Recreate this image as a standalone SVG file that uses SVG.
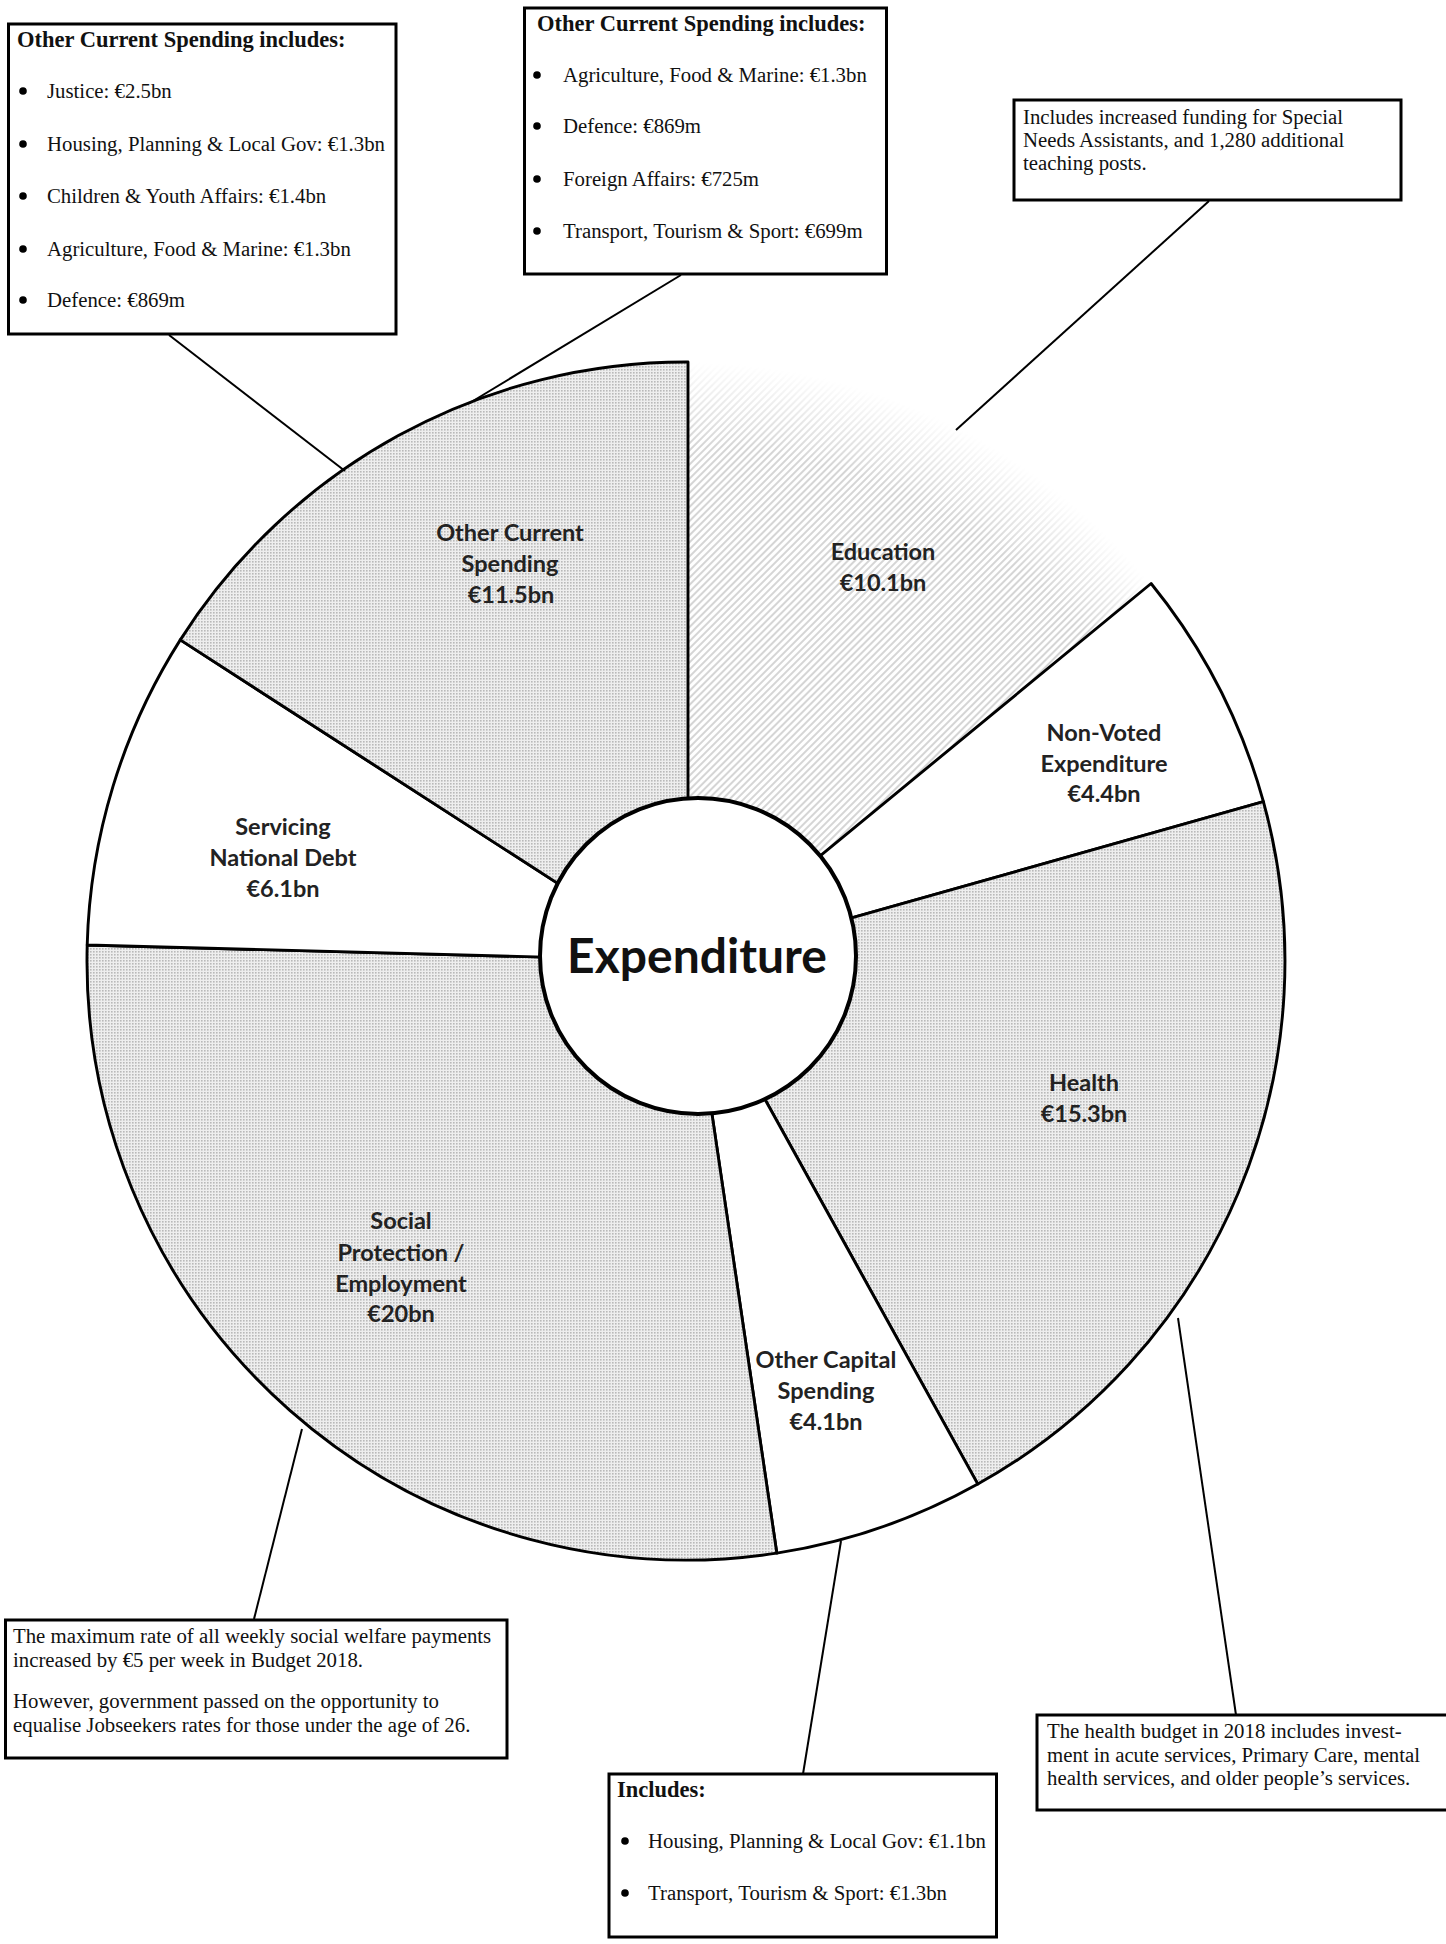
<svg xmlns="http://www.w3.org/2000/svg" width="1446" height="1944" viewBox="0 0 1446 1944">
<style>
.box{fill:#fff;stroke:#000;stroke-width:3}
.bt{font-family:"Liberation Serif","Times New Roman",serif;font-size:20.8px;fill:#111}
.bh{font-weight:bold;font-size:22.5px}
.lbl{font-family:Lato,"Liberation Sans",sans-serif;font-weight:bold;font-size:23.5px;fill:#222;text-anchor:middle}
.seg{stroke:#000;stroke-width:2.9;stroke-linejoin:round}
.conn{stroke:#000;stroke-width:2;fill:none}
.dot{fill:#000}
</style>
<defs>
<pattern id="dots" patternUnits="userSpaceOnUse" width="3" height="3">
<rect width="3" height="3" fill="#eeeeee"/>
<rect x="0" y="0" width="1.6" height="1.6" fill="#b9b9b9"/>
</pattern>
<pattern id="hatch" patternUnits="userSpaceOnUse" width="5" height="5" patternTransform="rotate(45)">
<rect width="5" height="5" fill="#fff"/>
<line x1="1" y1="0" x2="1" y2="5" stroke="#c4c4c4" stroke-width="1.4"/>
</pattern>
<radialGradient id="fadeG" gradientUnits="userSpaceOnUse" cx="686" cy="961" r="599">
<stop offset="0.86" stop-color="#fff"/>
<stop offset="1" stop-color="#000"/>
</radialGradient>
<mask id="fade" maskUnits="userSpaceOnUse" x="0" y="0" width="1446" height="1944">
<rect width="1446" height="1944" fill="url(#fadeG)"/>
</mask>
</defs>
<rect width="1446" height="1944" fill="#fff"/>

<g id="pie">
<g id="seg-education"><path d="M688 830 L688 362 A599 599 0 0 1 1151.1 583.5 L799.5 872.9 Z" fill="url(#hatch)" mask="url(#fade)"/></g>
<g id="seg-nonvoted"><path class="seg" d="M799.5 872.9 L1151.1 583.5 A599 599 0 0 1 1263.4 801.7 L827.7 924.6 Z" fill="#fff"/></g>
<g id="seg-health"><path class="seg" d="M827.7 924.6 L1263.4 801.7 A599 599 0 0 1 977.8 1484.1 L756.3 1083.8 Z" fill="url(#dots)"/></g>
<g id="seg-othercapital"><path class="seg" d="M756.3 1083.8 L977.8 1484.1 A599 599 0 0 1 776.8 1553.1 L709.4 1096.6 Z" fill="#fff"/></g>
<g id="seg-social"><path class="seg" d="M709.4 1096.6 L776.8 1553.1 A599 599 0 0 1 87.2 945 L563.1 957.6 Z" fill="url(#dots)"/></g>
<g id="seg-servicing"><path class="seg" d="M563.1 957.6 L87.2 945 A599 599 0 0 1 180.3 639.9 L579.4 897.4 Z" fill="#fff"/></g>
<g id="seg-ocs"><path class="seg" d="M579.4 897.4 L180.3 639.9 A599 599 0 0 1 688 362 L688 830 Z" fill="url(#dots)"/></g>
</g>

<g id="connectors">
<line class="conn" x1="169" y1="335" x2="345" y2="471"/>
<line class="conn" x1="681" y1="275" x2="468" y2="404"/>
<line class="conn" x1="1209" y1="201" x2="956" y2="430"/>
<line class="conn" x1="254" y1="1619" x2="302" y2="1429"/>
<line class="conn" x1="803" y1="1774" x2="841" y2="1541"/>
<line class="conn" x1="1236" y1="1715" x2="1178" y2="1318"/>
</g>

<g id="center">
<circle cx="698" cy="956" r="158" fill="#fff" stroke="#000" stroke-width="4"/>
<text x="697" y="973" class="lbl" style="font-size:48px;fill:#111">Expenditure</text>
</g>

<g id="lbl-ocs"><text class="lbl" x="510" y="541">Other Current</text><text class="lbl" x="510" y="572">Spending</text><text class="lbl" x="511" y="603">€11.5bn</text></g>
<g id="lbl-education"><text class="lbl" x="883" y="560">Education</text><text class="lbl" x="883" y="591">€10.1bn</text></g>
<g id="lbl-nonvoted"><text class="lbl" x="1104" y="741">Non-Voted</text><text class="lbl" x="1104" y="772">Expenditure</text><text class="lbl" x="1104" y="802">€4.4bn</text></g>
<g id="lbl-servicing"><text class="lbl" x="283" y="835">Servicing</text><text class="lbl" x="283" y="866">National Debt</text><text class="lbl" x="283" y="897">€6.1bn</text></g>
<g id="lbl-health"><text class="lbl" x="1084" y="1091">Health</text><text class="lbl" x="1084" y="1122">€15.3bn</text></g>
<g id="lbl-social"><text class="lbl" x="401" y="1229">Social</text><text class="lbl" x="401" y="1261">Protection /</text><text class="lbl" x="401" y="1292">Employment</text><text class="lbl" x="401" y="1322">€20bn</text></g>
<g id="lbl-othercapital"><text class="lbl" x="826" y="1368">Other Capital</text><text class="lbl" x="826" y="1399">Spending</text><text class="lbl" x="826" y="1430">€4.1bn</text></g>

<g id="box-ocs-left">
<rect class="box" x="8.5" y="24" width="387.5" height="310"/>
<text class="bt bh" x="17" y="47">Other Current Spending includes:</text>
<circle class="dot" cx="23" cy="91" r="3.8"/><text class="bt" x="47" y="98">Justice: €2.5bn</text>
<circle class="dot" cx="23" cy="144" r="3.8"/><text class="bt" x="47" y="151">Housing, Planning &amp; Local Gov: €1.3bn</text>
<circle class="dot" cx="23" cy="196" r="3.8"/><text class="bt" x="47" y="203">Children &amp; Youth Affairs: €1.4bn</text>
<circle class="dot" cx="23" cy="249" r="3.8"/><text class="bt" x="47" y="256">Agriculture, Food &amp; Marine: €1.3bn</text>
<circle class="dot" cx="23" cy="300" r="3.8"/><text class="bt" x="47" y="307">Defence: €869m</text>
</g>

<g id="box-ocs-right">
<rect class="box" x="524.5" y="8" width="362" height="266"/>
<text class="bt bh" x="537" y="31">Other Current Spending includes:</text>
<circle class="dot" cx="537" cy="75" r="3.8"/><text class="bt" x="563" y="82">Agriculture, Food &amp; Marine: €1.3bn</text>
<circle class="dot" cx="537" cy="126" r="3.8"/><text class="bt" x="563" y="133">Defence: €869m</text>
<circle class="dot" cx="537" cy="179" r="3.8"/><text class="bt" x="563" y="186">Foreign Affairs: €725m</text>
<circle class="dot" cx="537" cy="231" r="3.8"/><text class="bt" x="563" y="238">Transport, Tourism &amp; Sport: €699m</text>
</g>

<g id="box-education">
<rect class="box" x="1014" y="100" width="387" height="100"/>
<text class="bt" x="1023" y="124">Includes increased funding for Special</text>
<text class="bt" x="1023" y="147">Needs Assistants, and 1,280 additional</text>
<text class="bt" x="1023" y="170">teaching posts.</text>
</g>

<g id="box-social">
<rect class="box" x="5.5" y="1620" width="501.5" height="138"/>
<text class="bt" x="13" y="1643">The maximum rate of all weekly social welfare payments</text>
<text class="bt" x="13" y="1667">increased by €5 per week in Budget 2018.</text>
<text class="bt" x="13" y="1708">However, government passed on the opportunity to</text>
<text class="bt" x="13" y="1732">equalise Jobseekers rates for those under the age of 26.</text>
</g>

<g id="box-othercapital">
<rect class="box" x="609" y="1774" width="387.5" height="163"/>
<text class="bt bh" x="617" y="1797">Includes:</text>
<circle class="dot" cx="625" cy="1841" r="3.8"/><text class="bt" x="648" y="1848">Housing, Planning &amp; Local Gov: €1.1bn</text>
<circle class="dot" cx="625" cy="1893" r="3.8"/><text class="bt" x="648" y="1900">Transport, Tourism &amp; Sport: €1.3bn</text>
</g>

<g id="box-health">
<rect class="box" x="1037" y="1715" width="420" height="95"/>
<text class="bt" x="1047" y="1738">The health budget in 2018 includes invest-</text>
<text class="bt" x="1047" y="1762">ment in acute services, Primary Care, mental</text>
<text class="bt" x="1047" y="1785">health services, and older people’s services.</text>
</g>
</svg>
